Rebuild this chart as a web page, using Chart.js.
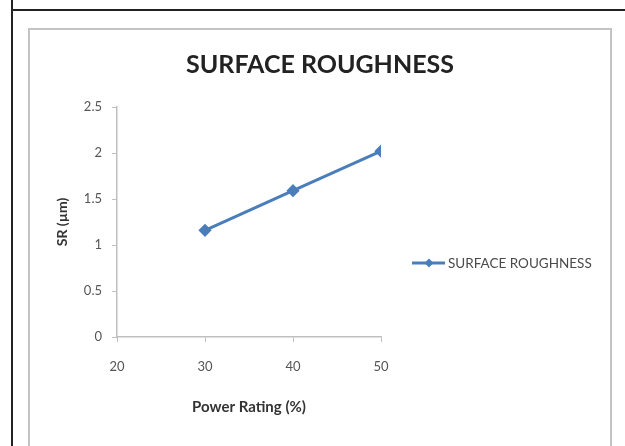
<!DOCTYPE html>
<html>
<head>
<meta charset="utf-8">
<script src="https://cdn.jsdelivr.net/npm/chart.js@4"></script>
<style>
  body { margin: 0; background: #fff; width: 625px; height: 446px; overflow: hidden; position: relative; }
  #vline { position: absolute; left: 11px; top: 0; width: 2px; height: 446px; background: #222; }
  #hline { position: absolute; left: 11px; top: 9px; width: 614px; height: 2px; background: #222; }
  #box { position: absolute; left: 28px; top: 28px; width: 580px; height: 430px; border: 2px solid #c4c4c4; border-bottom: none; }
  #wrap { position: absolute; left: 30px; top: 30px; width: 580px; height: 416px; }
</style>
</head>
<body>
<div id="vline"></div>
<div id="hline"></div>
<div id="box"></div>
<div id="wrap"><canvas id="graph"></canvas></div>
<script>
const powerRating = [30, 40, 50]; // %
const roughness = [1.16, 1.59, 2.02]; // SR (µm)
const seriesName = 'SURFACE ROUGHNESS';
const BLUE = '#4a7ebb';
const AXIS = '#bfbfbf';
const FONT = 'Lato, "DejaVu Sans", sans-serif';

// legend drawn by hand so it shows line + diamond like the excel one
const sideLegend = {
    id: 'sideLegend',
    afterDraw(chart) {
        const ctx = chart.ctx;
        const ds = chart.data.datasets[0];
        const x = 382, y = 233;
        ctx.save();
        ctx.strokeStyle = BLUE;
        ctx.lineWidth = 3;
        ctx.beginPath();
        ctx.moveTo(x, y);
        ctx.lineTo(x + 33, y);
        ctx.stroke();
        ctx.fillStyle = BLUE;
        ctx.beginPath();
        ctx.moveTo(x + 17, y - 4.5);
        ctx.lineTo(x + 21.5, y);
        ctx.lineTo(x + 17, y + 4.5);
        ctx.lineTo(x + 12.5, y);
        ctx.closePath();
        ctx.fill();
        ctx.fillStyle = '#4a4a4a';
        ctx.font = '13.5px ' + FONT;
        ctx.textBaseline = 'middle';
        ctx.fillText(ds.label, x + 36, y + 1);
        ctx.restore();
    }
};

const chart = new Chart(document.getElementById('graph'), {
    type: 'scatter',
    data: {
        datasets: [{
            label: seriesName,
            data: powerRating.map((p, i) => ({ x: p, y: roughness[i] })),
            showLine: true,
            borderColor: BLUE,
            backgroundColor: BLUE,
            borderWidth: 3,
            pointStyle: 'rectRot',
            pointRadius: 4.5,
        }]
    },
    options: {
        responsive: true,
        maintainAspectRatio: false,
        animation: false,
        events: [],
        layout: { padding: { left: 0, right: 0, top: 0, bottom: 30 } },
        scales: {
            x: {
                min: 20, max: 50,
                afterFit: s => { s.height = 79; },
                ticks: { stepSize: 10, padding: 17, color: '#555', font: { family: FONT, size: 13 } },
                grid: { drawOnChartArea: false, tickLength: 5, color: AXIS },
                border: { color: AXIS, width: 1.5 },
                title: { display: true, text: 'Power Rating (%)', color: '#333', font: { family: FONT, size: 15, weight: 'bold' }, padding: { top: 0, bottom: 0 } }
            },
            y: {
                min: 0, max: 2.5,
                afterFit: s => { s.width = 87; },
                ticks: { stepSize: 0.5, padding: 10, color: '#555', font: { family: FONT, size: 13 }, callback: v => String(v) },
                grid: { drawOnChartArea: false, tickLength: 5, color: AXIS },
                border: { color: AXIS, width: 1.5 },
                title: { display: true, text: 'SR (µm)', color: '#333', font: { family: FONT, size: 14, weight: 'bold' }, padding: { top: 24, bottom: 0 } }
            },
            // empty right scale, only keeps room for the legend
            side: {
                type: 'linear',
                position: 'right',
                afterFit: s => { s.width = 229; },
                ticks: { display: false },
                grid: { display: false },
                border: { display: false }
            }
        },
        plugins: {
            legend: { display: false },
            tooltip: { enabled: false },
            title: {
                display: true,
                text: 'SURFACE ROUGHNESS',
                color: '#222',
                font: { family: FONT, size: 25, weight: 'bold' },
                padding: { top: 20, bottom: 27 }
            }
        }
    },
    plugins: [sideLegend]
});
</script>
</body>
</html>
